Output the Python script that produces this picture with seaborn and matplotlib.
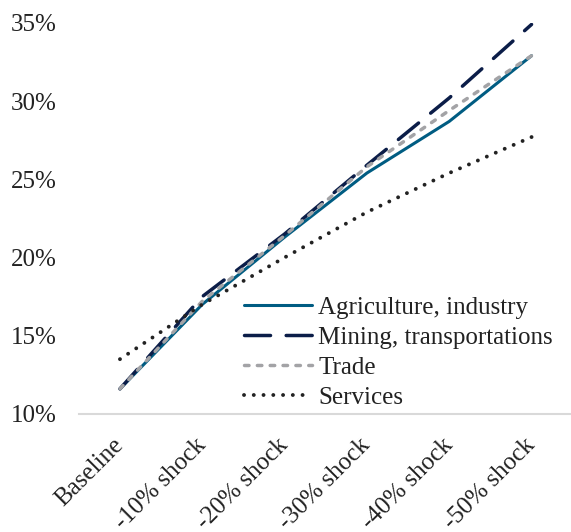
import matplotlib
matplotlib.use("Agg")
import matplotlib.pyplot as plt
import seaborn as sns
import pandas as pd
from matplotlib.ticker import FuncFormatter

categories = ["Baseline", "-10% shock", "-20% shock", "-30% shock", "-40% shock", "-50% shock"]
agriculture = [11.6, 17.0, 21.3, 25.4, 28.7, 32.9]
mining = [11.6, 17.5, 21.5, 25.9, 30.2, 34.9]
trade = [11.6, 17.2, 21.4, 25.8, 29.4, 32.9]
services = [13.5, 17.0, 20.0, 22.9, 25.4, 27.7]
series_names = ["Agriculture, industry", "Mining, transportations", "Trade", "Services"]

sns.set_theme(style="white")
plt.rcParams["font.family"] = ["Liberation Serif", "DejaVu Serif"]

fig = plt.figure(figsize=(5.71, 5.32), dpi=100)
ax = fig.add_axes([0.138, 0.222, 0.865, 0.735])

styles = {
    "Agriculture, industry": dict(color="#005C82", lw=2.2, dashes=None),
    "Mining, transportations": dict(color="#0B1D48", lw=2.5, dashes=(7.5, 4.5)),
    "Trade": dict(color="#A3A3A6", lw=2.5, dashes=(1.3, 2.4)),
    "Services": dict(color="#222222", lw=2.8, dashes=(0.01, 2.5)),
}
values = [agriculture, mining, trade, services]
x = list(range(len(categories)))
for name, vals in zip(series_names, values):
    st = styles[name]
    df = pd.DataFrame({"x": x, "y": vals})
    kw = dict(color=st["color"], linewidth=st["lw"], label=name, ax=ax,
              solid_capstyle="round", dash_capstyle="round")
    sns.lineplot(data=df, x="x", y="y", **kw)
    line = ax.get_lines()[-1]
    if st["dashes"] is not None:
        line.set_dashes(st["dashes"])

FS = 18
ax.set_xlim(-0.5, 5.5)
ax.set_ylim(10, 35)
ax.set_xticks(x)
ax.set_xticklabels(categories, rotation=45, ha="right", va="center", rotation_mode="anchor",
                   fontsize=FS, color="#222222")
ax.set_yticks([10, 15, 20, 25, 30, 35])
ax.yaxis.set_major_formatter(FuncFormatter(lambda v, p: f"{int(v)}%"))
ax.tick_params(axis="y", labelsize=FS, colors="#222222", length=0, pad=16)
ax.tick_params(axis="x", length=0, pad=20)
ax.set_xlabel("")
ax.set_ylabel("")
for s in ["top", "right", "left"]:
    ax.spines[s].set_visible(False)
ax.spines["bottom"].set_color("#D9D9D9")
ax.spines["bottom"].set_linewidth(1.5)

leg = ax.legend(loc="upper left", bbox_to_anchor=(0.335, 0.30), frameon=False,
                fontsize=FS, handlelength=2.7, handletextpad=0.25, labelspacing=0.3,
                borderpad=0, borderaxespad=0)
for t in leg.get_texts():
    t.set_color("#222222")

fig.savefig("out.png", dpi=100)
